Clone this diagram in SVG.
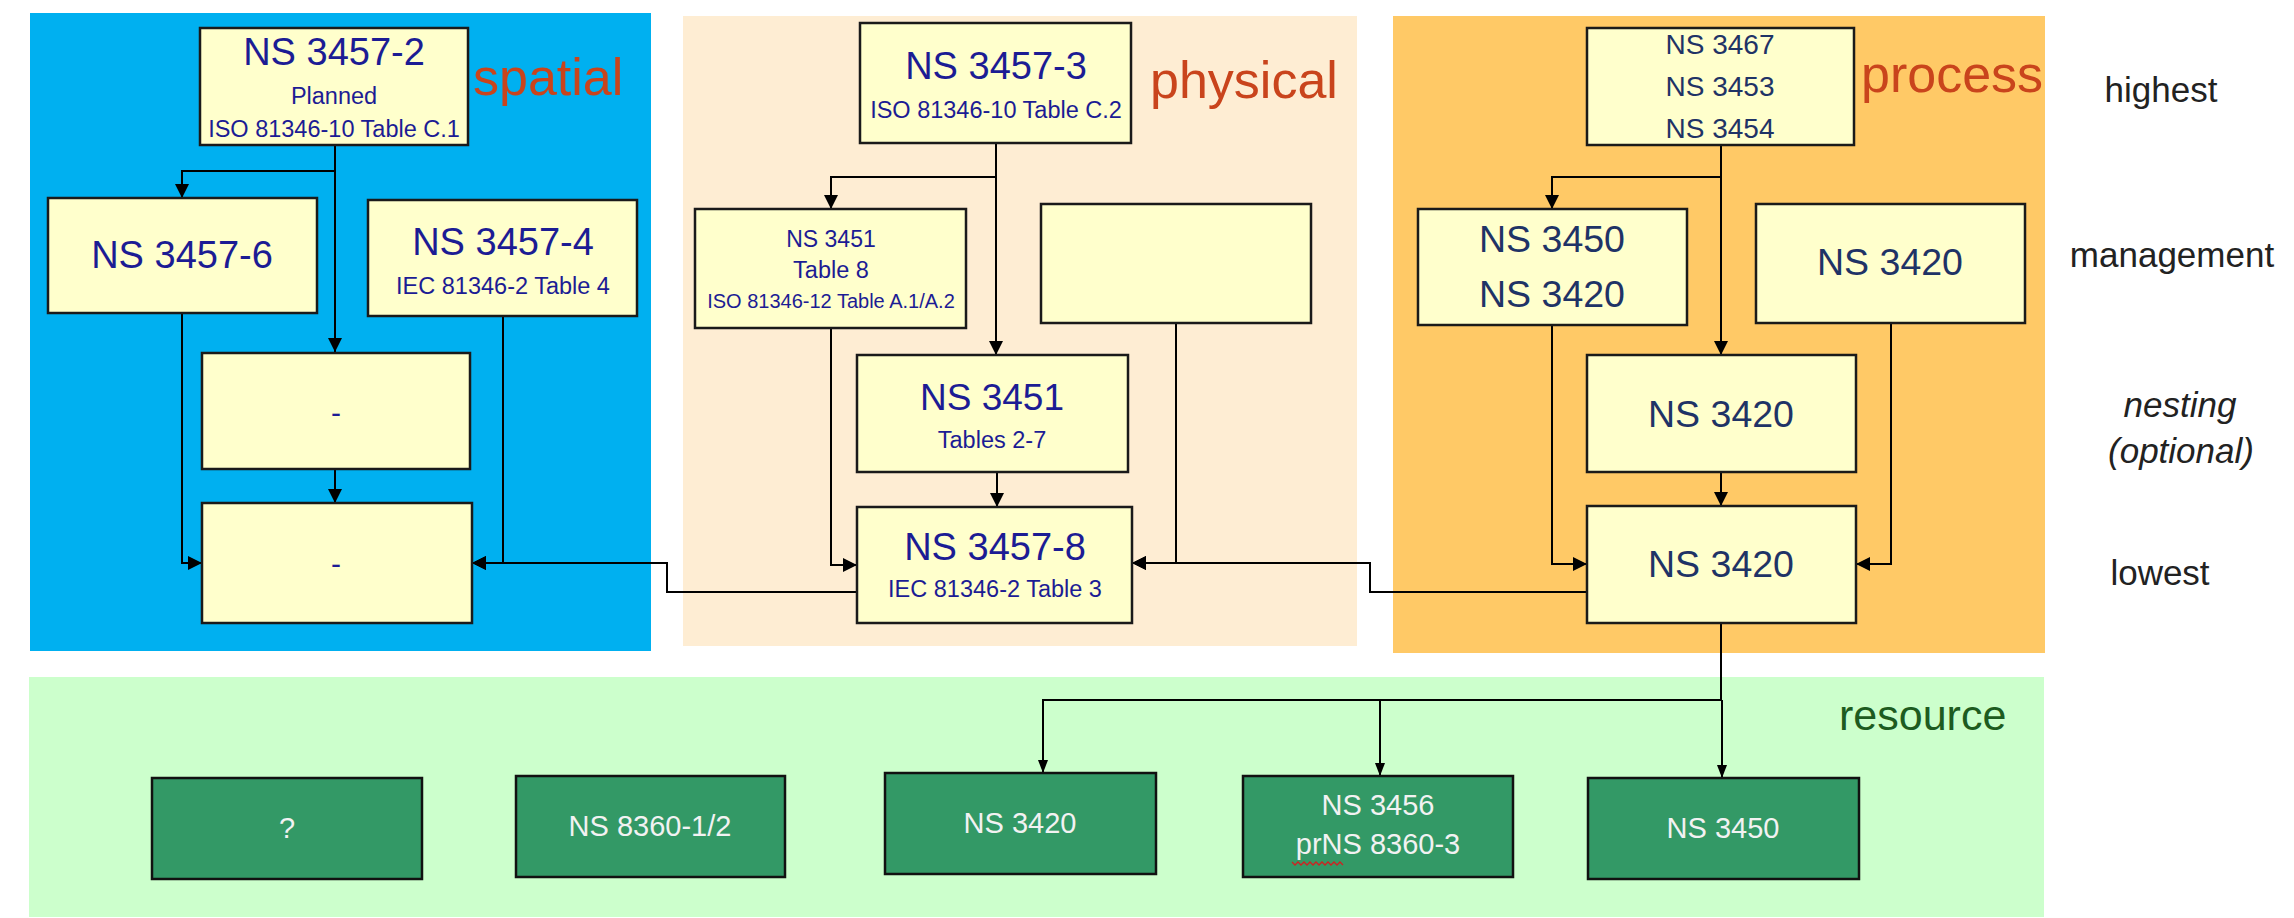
<svg xmlns="http://www.w3.org/2000/svg" width="2294" height="918" viewBox="0 0 2294 918">
<style>
text{font-family:"Liberation Sans",Arial,sans-serif;}
.box{fill:#FFFFCC;stroke:#1a1a1a;stroke-width:2.5;}
.gbox{fill:#339966;stroke:#111;stroke-width:2.5;}
.t{fill:#1C1C94;text-anchor:middle;}
.tp{fill:#1F3366;text-anchor:middle;}
.tg{fill:#F2F2F2;text-anchor:middle;font-size:29px;}
.big{font-size:38px;}
.sub{font-size:23.5px;}
.ttl{font-size:52px;fill:#C9441C;}
.lvl{font-size:35px;fill:#222;text-anchor:middle;}
.c{fill:none;stroke:#000;stroke-width:2;}
</style>
<defs>
<marker id="ah" markerUnits="userSpaceOnUse" markerWidth="14" markerHeight="14" refX="14" refY="7" orient="auto"><path d="M0,0 L14,7 L0,14 z" fill="#000"/></marker>
<marker id="ahs" markerUnits="userSpaceOnUse" markerWidth="13" markerHeight="10" refX="13" refY="5" orient="auto"><path d="M0,0 L13,5 L0,10 z" fill="#000"/></marker>
</defs>
<g id="panels">
<rect x="30" y="13" width="621" height="638" fill="#00B0F0"/>
<rect x="683" y="16" width="674" height="630" fill="#FEEDD3"/>
<rect x="1393" y="16" width="652" height="637" fill="#FFC966"/>
<rect x="29" y="677" width="2015" height="240" fill="#CCFFCC"/>
</g>
<g id="labels">
<text class="ttl" x="473" y="95">spatial</text>
<text class="ttl" x="1150" y="98">physical</text>
<text class="ttl" x="1861" y="92">process</text>
<text x="1839" y="730" font-size="43" fill="#1D5B20">resource</text>
<text class="lvl" x="2161" y="102">highest</text>
<text class="lvl" x="2172" y="267">management</text>
<text class="lvl" x="2180" y="417" font-style="italic">nesting</text>
<text class="lvl" x="2181" y="463" font-style="italic">(optional)</text>
<text class="lvl" x="2160" y="585">lowest</text>
</g>
<g id="connectors">
<path class="c" d="M335,145 V352" marker-end="url(#ah)"/>
<path class="c" d="M335,171 H182 V198" marker-end="url(#ah)"/>
<path class="c" d="M335,469 V503" marker-end="url(#ah)"/>
<path class="c" d="M182,313 V563 H202" marker-end="url(#ah)"/>
<path class="c" d="M503,316 V563 H472" marker-end="url(#ah)"/>
<path class="c" d="M857,592 H667 V563 H472" marker-end="url(#ah)"/>
<path class="c" d="M996,143 V355" marker-end="url(#ah)"/>
<path class="c" d="M996,177 H831 V209" marker-end="url(#ah)"/>
<path class="c" d="M997,472 V507" marker-end="url(#ah)"/>
<path class="c" d="M831,328 V565 H857" marker-end="url(#ah)"/>
<path class="c" d="M1176,323 V563 H1132" marker-end="url(#ah)"/>
<path class="c" d="M1587,592 H1370 V563 H1132" marker-end="url(#ah)"/>
<path class="c" d="M1721,145 V355" marker-end="url(#ah)"/>
<path class="c" d="M1721,177 H1552 V209" marker-end="url(#ah)"/>
<path class="c" d="M1721,472 V506" marker-end="url(#ah)"/>
<path class="c" d="M1552,325 V564 H1587" marker-end="url(#ah)"/>
<path class="c" d="M1891,323 V564 H1856" marker-end="url(#ah)"/>
<path class="c" d="M1721,623 V700 H1043 V773" stroke-width="2.5" marker-end="url(#ahs)"/>
<path class="c" d="M1380,700 V776" marker-end="url(#ahs)"/>
<path class="c" d="M1722,700 V778" marker-end="url(#ahs)"/>
</g>
<g id="ns3457-2"><rect class="box" x="200" y="28" width="268" height="117"/>
<text class="t big" x="334" y="65">NS 3457-2</text><text class="t sub" x="334" y="104">Planned</text><text class="t sub" x="334" y="137">ISO 81346-10 Table C.1</text></g>
<g id="ns3457-6"><rect class="box" x="48" y="198" width="269" height="115"/><text class="t big" x="182" y="268">NS 3457-6</text></g>
<g id="ns3457-4"><rect class="box" x="368" y="200" width="269" height="116"/><text class="t big" x="503" y="255">NS 3457-4</text><text class="t sub" x="503" y="294">IEC 81346-2 Table 4</text></g>
<g id="spatial-nest"><rect class="box" x="202" y="353" width="268" height="116"/><text class="t" x="336" y="423" font-size="30">-</text></g>
<g id="spatial-low"><rect class="box" x="202" y="503" width="270" height="120"/><text class="t" x="336" y="574" font-size="30">-</text></g>
<g id="ns3457-3"><rect class="box" x="860" y="23" width="271" height="120"/><text class="t big" x="996" y="79">NS 3457-3</text><text class="t sub" x="996" y="118">ISO 81346-10 Table C.2</text></g>
<g id="ns3451-t8"><rect class="box" x="695" y="209" width="271" height="119"/><text class="t" x="831" y="247" font-size="23">NS 3451</text><text class="t sub" x="831" y="278">Table 8</text><text class="t" x="831" y="308" font-size="20">ISO 81346-12 Table A.1/A.2</text></g>
<g id="physical-empty"><rect class="box" x="1041" y="204" width="270" height="119"/></g>
<g id="ns3451-t27"><rect class="box" x="857" y="355" width="271" height="117"/><text class="t" x="992" y="410" font-size="37">NS 3451</text><text class="t sub" x="992" y="448">Tables 2-7</text></g>
<g id="ns3457-8"><rect class="box" x="857" y="507" width="275" height="116"/><text class="t big" x="995" y="560">NS 3457-8</text><text class="t sub" x="995" y="597">IEC 81346-2 Table 3</text></g>
<g id="process-top"><rect class="box" x="1587" y="28" width="267" height="117"/><text class="tp" x="1720" y="54" font-size="28">NS 3467</text><text class="tp" x="1720" y="96" font-size="28">NS 3453</text><text class="tp" x="1720" y="138" font-size="28">NS 3454</text></g>
<g id="ns3450-3420"><rect class="box" x="1418" y="209" width="269" height="116"/><text class="tp" x="1552" y="252" font-size="37.5">NS 3450</text><text class="tp" x="1552" y="307" font-size="37.5">NS 3420</text></g>
<g id="ns3420-mgmt"><rect class="box" x="1756" y="204" width="269" height="119"/><text class="tp" x="1890" y="275" font-size="37.5">NS 3420</text></g>
<g id="ns3420-nest"><rect class="box" x="1587" y="355" width="269" height="117"/><text class="tp" x="1721" y="427" font-size="37.5">NS 3420</text></g>
<g id="ns3420-low"><rect class="box" x="1587" y="506" width="269" height="117"/><text class="tp" x="1721" y="577" font-size="37.5">NS 3420</text></g>
<g id="res-q"><rect class="gbox" x="152" y="778" width="270" height="101"/><text class="tg" x="287" y="838">?</text></g>
<g id="res-8360"><rect class="gbox" x="516" y="776" width="269" height="101"/><text class="tg" x="650" y="836">NS 8360-1/2</text></g>
<g id="res-3420"><rect class="gbox" x="885" y="773" width="271" height="101"/><text class="tg" x="1020" y="833">NS 3420</text></g>
<g id="res-3456"><rect class="gbox" x="1243" y="776" width="270" height="101"/><text class="tg" x="1378" y="815">NS 3456</text><text class="tg" x="1378" y="854">prNS 8360-3</text>
<polyline points="1292,862 1295,865 1298,862 1301,865 1304,862 1307,865 1310,862 1313,865 1316,862 1319,865 1322,862 1325,865 1328,862 1331,865 1334,862 1337,865 1340,862 1343,865" fill="none" stroke="#D02020" stroke-width="1.3"/></g>
<g id="res-3450"><rect class="gbox" x="1588" y="778" width="271" height="101"/><text class="tg" x="1723" y="838">NS 3450</text></g>
</svg>
